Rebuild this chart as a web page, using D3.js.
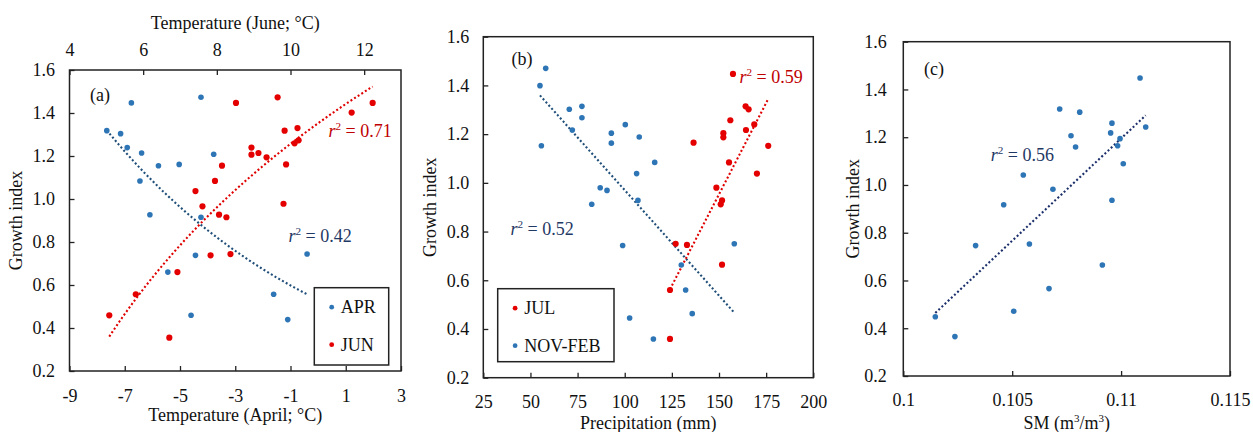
<!DOCTYPE html>
<html>
<head>
<meta charset="utf-8">
<script src="https://cdn.jsdelivr.net/npm/d3@7"></script>
<style>
  html, body { margin: 0; padding: 0; background: #fff; }
  svg { display: block; font-family: "Liberation Serif", "Times New Roman", serif; }
</style>
</head>
<body>
<svg id="chart" width="1253" height="432"></svg>
<script>
// ---------------- DATA ----------------
// Panel (a): April temperature (bottom axis) and June temperature (top axis)
const aprTemp   = [-7.65, -7.15, -6.76, -6.91, -6.39, -5.78, -5.03, -6.45, -6.09, -4.24, -3.78, -4.24, -4.44, -5.44, -4.60, -0.40, -1.61, -1.10];
const aprGrowth = [ 1.318, 1.304, 1.447, 1.239, 1.214, 1.155, 1.161, 1.084, 0.927, 1.473, 1.208, 0.915, 0.738, 0.660, 0.459, 0.744, 0.557, 0.439];
const junTemp   = [5.08, 5.80, 6.71, 6.93, 7.42, 7.61, 7.83, 7.95, 8.06, 8.14, 8.26, 8.37, 8.52, 8.94, 8.94, 9.13, 9.35, 9.65, 9.84, 9.88, 9.81, 10.11, 10.19, 10.22, 11.66, 12.23];
const junGrowth = [0.459, 0.557, 0.355, 0.660, 1.037, 0.966, 0.738, 1.084, 0.927, 1.155, 0.915, 0.744, 1.447, 1.239, 1.206, 1.214, 1.194, 1.473, 1.318, 1.161, 0.978, 1.259, 1.330, 1.273, 1.402, 1.447];

// Panel (b): precipitation
const novfebPrecip = [58.1, 55.05, 55.8, 70.6, 77.3, 77.3, 72.2, 92.9, 92.9, 100.3, 107.7, 115.9, 106.3, 107.0, 87.0, 90.6, 82.5, 98.9, 102.6, 115.2, 130.0, 132.3, 135.8, 158.1];
const novfebGrowth = [1.470, 1.399, 1.152, 1.302, 1.314, 1.267, 1.217, 1.204, 1.163, 1.239, 1.188, 1.084, 1.038, 0.928, 0.980, 0.969, 0.912, 0.743, 0.445, 0.359, 0.663, 0.560, 0.463, 0.750];
const julPrecip    = [157.4, 164.1, 165.7, 156.0, 152.3, 152.3, 164.3, 168.7, 136.5, 176.1, 155.3, 170.1, 148.6, 151.6, 150.9, 127.0, 133.0, 151.6, 124.0, 124.0];
const julGrowth    = [1.447, 1.314, 1.302, 1.257, 1.204, 1.187, 1.217, 1.240, 1.165, 1.152, 1.084, 1.038, 0.980, 0.928, 0.912, 0.750, 0.745, 0.664, 0.560, 0.359];

// Panel (c): soil moisture
const smValues = [0.10147, 0.10237, 0.10332, 0.10461, 0.10507, 0.10551, 0.10579, 0.10669, 0.10687, 0.10718, 0.10770, 0.10791, 0.10810, 0.10914, 0.10952, 0.10958, 0.10958, 0.10984, 0.10995, 0.11010, 0.11087, 0.11113];
const smGrowth = [0.448, 0.365, 0.746, 0.917, 0.471, 1.042, 0.753, 0.566, 0.982, 1.318, 1.206, 1.159, 1.305, 0.665, 1.218, 1.259, 0.936, 1.164, 1.194, 1.089, 1.448, 1.243];

// Trend-line coefficients (data space)
const aprTrend    = [0.531, -0.119];   // y = a * exp(b x)
const junTrend    = [1.324, -1.792];   // y = a * ln(x) + b
const novfebTrend = [-0.00866, 1.836]; // y = a x + b
const julTrend    = [0.0150, -1.297];
const smTrend     = [85.67, -8.229];

const r2Labels = ["0.42", "0.71", "0.52", "0.59", "0.56"];

// Tick values
const yTicks       = [0.2, 0.4, 0.6, 0.8, 1.0, 1.2, 1.4, 1.6];
const aprTicks     = [-9, -7, -5, -3, -1, 1, 3];
const junTicks     = [4, 6, 8, 10, 12];
const precipTicks  = [25, 50, 75, 100, 125, 150, 175, 200];
const smTicks      = [0.1, 0.105, 0.11, 0.115];

// ---------------- STYLE ----------------
const BLUE = "#2e75b6", RED = "#e50000";
const BLUE_LINE = "#1f4e79", RED_LINE = "#e00000";
const NAVY_TXT = "#1f3864", RED_TXT = "#c00000";
const FS = 18;

const svg = d3.select("#chart");

function panel(cfg) {
  const g = svg.append("g");
  const x = d3.scaleLinear().domain(cfg.xDomain).range([cfg.left, cfg.right]);
  const y = d3.scaleLinear().domain([0.2, 1.6]).range([cfg.bottom, cfg.top]);

  // axes
  const ax = g.append("g").attr("transform", `translate(0,${cfg.bottom})`)
    .call(d3.axisBottom(x).tickValues(cfg.xTicks).tickSizeInner(-5).tickSizeOuter(0)
      .tickPadding(cfg.xPad).tickFormat(d => String(d)));
  const ay = g.append("g").attr("transform", `translate(${cfg.left},0)`)
    .call(d3.axisLeft(y).tickValues(yTicks).tickSizeInner(-5).tickSizeOuter(0)
      .tickPadding(cfg.yPad).tickFormat(d => d.toFixed(1)));
  [ax, ay].forEach(a => {
    a.select(".domain").remove();
    a.selectAll("line").attr("stroke", "#222").attr("stroke-width", 1.3);
    a.selectAll("text").attr("font-size", FS).attr("fill", "#111")
      .attr("font-family", "Liberation Serif, serif");
  });
  ax.selectAll("text").attr("dy", "0.71em");

  if (cfg.top2) {
    const x2 = d3.scaleLinear().domain(cfg.top2.domain).range([cfg.left, cfg.right]);
    const at = g.append("g").attr("transform", `translate(0,${cfg.top})`)
      .call(d3.axisTop(x2).tickValues(cfg.top2.ticks).tickSizeInner(-5).tickSizeOuter(0)
        .tickPadding(14).tickFormat(d => String(d)));
    at.select(".domain").remove();
    at.selectAll("line").attr("stroke", "#222").attr("stroke-width", 1.3);
    at.selectAll("text").attr("font-size", FS).attr("fill", "#111")
      .attr("font-family", "Liberation Serif, serif");
    cfg.x2 = x2;
    g.append("text").attr("x", (cfg.left + cfg.right) / 2).attr("y", 28.5)
      .attr("text-anchor", "middle").attr("font-size", FS).attr("fill", "#111")
      .text(cfg.top2.title);
  }

  // frame
  g.append("rect").attr("x", cfg.left).attr("y", cfg.top)
    .attr("width", cfg.right - cfg.left).attr("height", cfg.bottom - cfg.top)
    .attr("fill", "none").attr("stroke", "#222").attr("stroke-width", 1.5);

  // titles
  g.append("text").attr("x", (cfg.left + cfg.right) / 2).attr("y", cfg.xTitleY)
    .attr("text-anchor", "middle").attr("font-size", FS).attr("fill", "#111")
    .html(cfg.xTitle);
  g.append("text").attr("transform", `translate(${cfg.yTitleX},${(cfg.top + cfg.bottom) / 2}) rotate(-90)`)
    .attr("text-anchor", "middle").attr("font-size", FS).attr("fill", "#111")
    .text("Growth index");

  // panel letter
  g.append("text").attr("x", cfg.letterPos[0]).attr("y", cfg.letterPos[1])
    .attr("font-size", FS).attr("fill", "#111").text(cfg.letter);

  cfg.x = x; cfg.y = y; cfg.g = g;
  return cfg;
}

function trend(p, xs, fn, color, xScale) {
  const sx = xScale || p.x;
  const [lo, hi] = d3.extent(xs);
  const pts = d3.range(0, 101).map(i => {
    const xv = lo + (hi - lo) * i / 100;
    return [sx(xv), p.y(fn(xv))];
  });
  p.g.append("path").attr("d", d3.line()(pts)).attr("fill", "none")
    .attr("stroke", color).attr("stroke-width", 2.1).attr("stroke-dasharray", "2,2.3");
}

function dots(p, xs, ys, color, r, xScale) {
  const sx = xScale || p.x;
  p.g.append("g").selectAll("circle").data(xs).join("circle")
    .attr("cx", d => sx(d)).attr("cy", (d, i) => p.y(ys[i]))
    .attr("r", r).attr("fill", color);
}

function r2(p, xPix, yPix, label, color) {
  const t = p.g.append("text").attr("x", xPix).attr("y", yPix)
    .attr("font-size", FS).attr("fill", color);
  t.append("tspan").attr("font-style", "italic").text("r");
  t.append("tspan").attr("font-size", FS * 0.62).attr("dy", -7).text("2");
  t.append("tspan").attr("dy", 7).text(" = " + label);
}

function legend(p, box, items) {
  p.g.append("rect").attr("x", box[0]).attr("y", box[1]).attr("width", box[2]).attr("height", box[3])
    .attr("fill", "#fff").attr("stroke", "#222").attr("stroke-width", 1.5);
  items.forEach((it, i) => {
    const cy = box[1] + 19.5 + i * 37.5;
    p.g.append("circle").attr("cx", box[0] + 17.4).attr("cy", cy).attr("r", 2.4).attr("fill", it.color);
    p.g.append("text").attr("x", box[0] + 26.5).attr("y", cy + 6).attr("font-size", FS)
      .attr("fill", "#111").text(it.label);
  });
}

// ---------------- PANEL A ----------------
const pa = panel({
  left: 69.5, right: 401, top: 70, bottom: 371,
  xDomain: [-9, 3], xTicks: aprTicks, xPad: 18, yPad: 14.5,
  xTitle: "Temperature (April; °C)", xTitleY: 421, yTitleX: 22,
  letter: "(a)", letterPos: [90, 101],
  top2: { domain: [4, 13], ticks: junTicks, title: "Temperature (June; °C)" }
});
trend(pa, aprTemp, v => aprTrend[0] * Math.exp(aprTrend[1] * v), BLUE_LINE);
trend(pa, junTemp, v => junTrend[0] * Math.log(v) + junTrend[1], RED_LINE, pa.x2);
dots(pa, aprTemp, aprGrowth, BLUE, 2.8);
dots(pa, junTemp, junGrowth, RED, 3.1, pa.x2);
r2(pa, 328.5, 137, r2Labels[1], RED_TXT);
r2(pa, 288.5, 242, r2Labels[0], NAVY_TXT);
legend(pa, [314.3, 287.7, 74.4, 77.3], [{ color: BLUE, label: "APR" }, { color: RED, label: "JUN" }]);

// ---------------- PANEL B ----------------
const pb = panel({
  left: 483.3, right: 813.3, top: 36.7, bottom: 377.7,
  xDomain: [25, 200], xTicks: precipTicks, xPad: 17.5, yPad: 14,
  xTitle: "Precipitation (mm)", xTitleY: 429, yTitleX: 436,
  letter: "(b)", letterPos: [511.5, 65]
});
trend(pb, novfebPrecip, v => novfebTrend[0] * v + novfebTrend[1], BLUE_LINE);
trend(pb, julPrecip, v => julTrend[0] * v + julTrend[1], RED_LINE);
dots(pb, novfebPrecip, novfebGrowth, BLUE, 2.8);
dots(pb, julPrecip, julGrowth, RED, 3.1);
r2(pb, 739.5, 83, r2Labels[3], RED_TXT);
r2(pb, 510.5, 235, r2Labels[2], NAVY_TXT);
legend(pb, [497.7, 288.7, 116.3, 73], [{ color: RED, label: "JUL" }, { color: BLUE, label: "NOV-FEB" }]);

// ---------------- PANEL C ----------------
const pc = panel({
  left: 903.3, right: 1230, top: 41.7, bottom: 376,
  xDomain: [0.1, 0.115], xTicks: smTicks, xPad: 17.5, yPad: 16.5,
  xTitle: "SM (m<tspan font-size='11' dy='-7'>3</tspan><tspan dy='7'>/m</tspan><tspan font-size='11' dy='-7'>3</tspan><tspan dy='7'>)</tspan>",
  xTitleY: 429, yTitleX: 859,
  letter: "(c)", letterPos: [924, 75]
});
trend(pc, smValues, v => smTrend[0] * v + smTrend[1], "#1c2f6b");
dots(pc, smValues, smGrowth, BLUE, 2.8);
r2(pc, 990.7, 161, r2Labels[4], NAVY_TXT);
</script>
</body>
</html>
